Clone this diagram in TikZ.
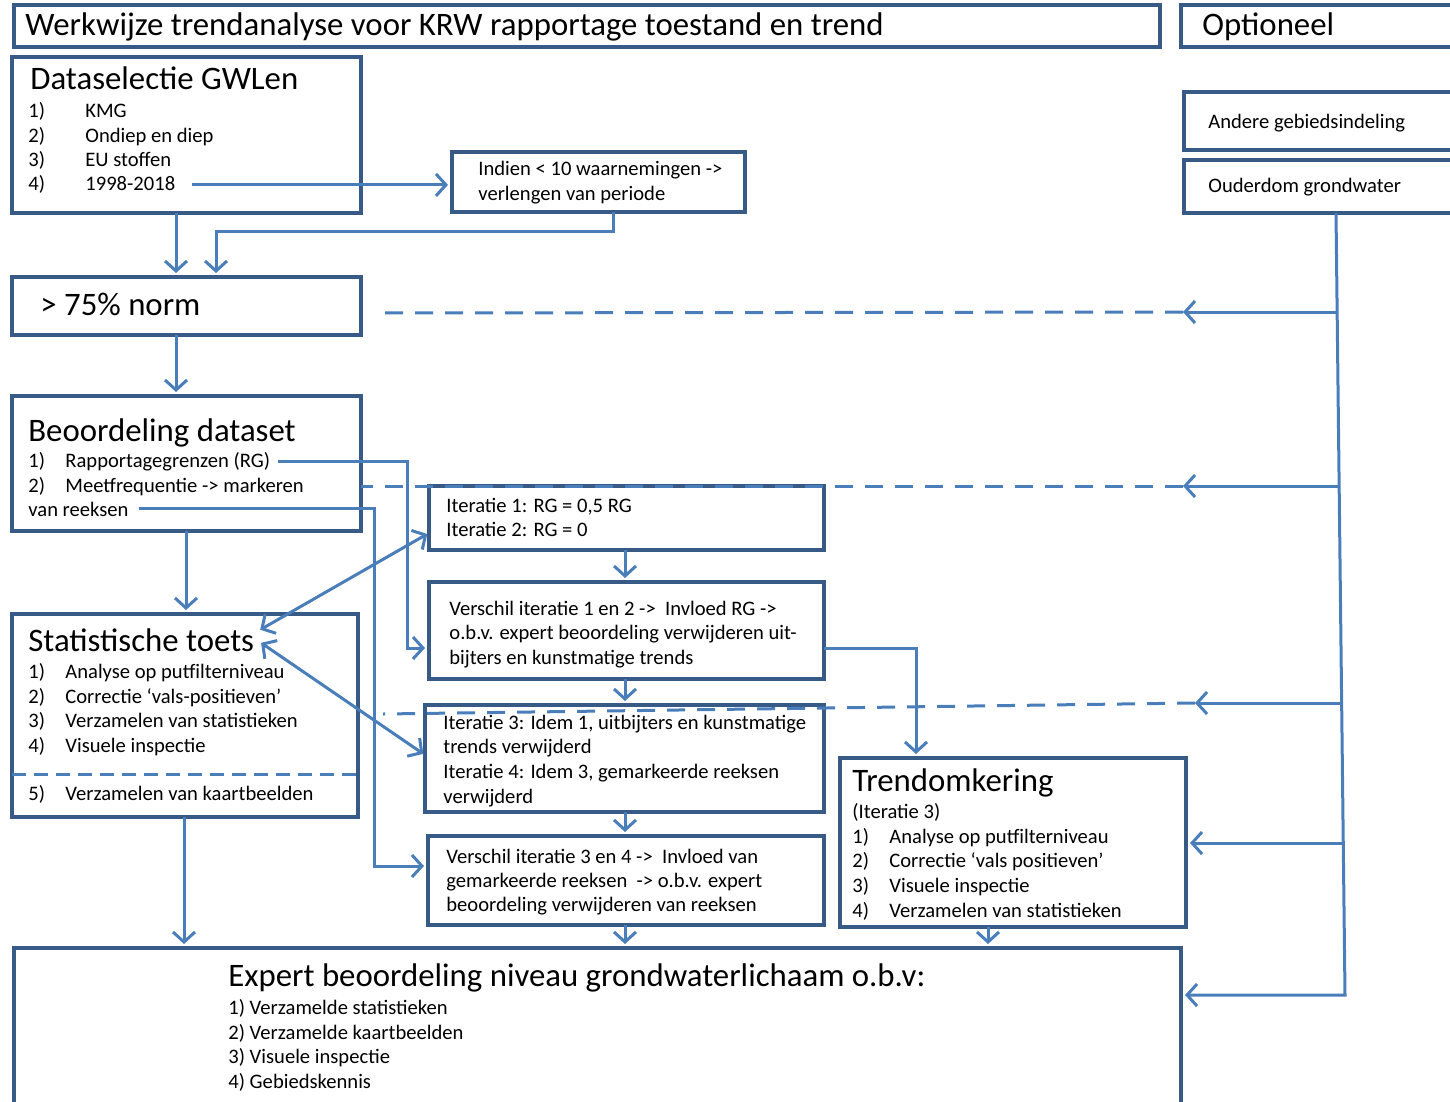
\documentclass[tikz,border=0pt]{standalone}
\usepackage{fontspec}
\setmainfont{Carlito}
\usetikzlibrary{arrows.meta,calc}
\definecolor{boxc}{HTML}{375A87}
\definecolor{arrc}{HTML}{4A7EBB}
\newcommand\mybox[5]{\node[box, minimum width={(#4-#2)*0.5pt}, minimum height={(#5-#3)*0.5pt}] (#1) at ({(#2+#4)/2},{(#3+#5)/2}) {};}
\newcommand\nr[1]{\makebox[18.5pt][l]{#1}}
\begin{document}
\begin{tikzpicture}[x=0.5pt,y=-0.5pt,
  box/.style={draw=boxc, line width=1.7pt, inner sep=0pt, outer sep=0pt},
  con/.style={draw=arrc, line width=1.5pt},
  tip/.tip={Straight Barb[length=5pt,width=11pt]},
  arr/.style={con, -tip, shorten >=2pt},
  darr/.style={con, tip-tip, shorten >=1pt, shorten <=1pt},
  dsh/.style={con, dash pattern=on 9pt off 6pt},
  big/.style={anchor=base west, inner sep=0pt, font=\fontsize{16.4}{19}\selectfont},
  sm/.style={anchor=base west, inner sep=0pt, font=\fontsize{10.3}{12}\selectfont},
]
\useasboundingbox (0,0) rectangle (1450,1102);

% boxes
\mybox{title}{14}{5}{1160}{47}
\mybox{opt}{1181}{5}{1470}{47}
\mybox{data}{12}{57}{361}{213}
\mybox{indien}{452}{152}{745}{212}
\mybox{norm}{12}{277}{361}{335}
\mybox{andere}{1184}{92}{1470}{150}
\mybox{ouder}{1184}{160}{1470}{213}
\mybox{beoord}{12}{396}{361}{531}
\mybox{it12}{429}{486}{824}{550}
\mybox{vers12}{429}{582}{824}{679}
\mybox{stat}{12}{614}{358}{817}
\mybox{it34}{425}{705}{824}{812}
\mybox{trend}{840}{758}{1186}{927}
\mybox{vers34}{428}{836}{824}{925}
\mybox{expert}{14}{948}{1181}{1120}

% texts
\node[big] (ttl) at (25,36) {Werkwijze trendanalyse voor KRW rapportage toestand en trend};
\node[big] (optt) at (1202,36) {Optioneel};
\node[big] (dh) at (30,90) {Dataselectie GWLen};
\node[sm] (d1t) at (28,118) {\makebox[28.5pt][l]{1)}KMG};
\node[sm] (d2t) at (28,142) {\makebox[28.5pt][l]{2)}Ondiep en diep};
\node[sm] (d3t) at (28,166) {\makebox[28.5pt][l]{3)}EU stoffen};
\node[sm] (d4t) at (28,191) {\makebox[28.5pt][l]{4)}1998-2018};
\node[sm] (i1t) at (478,176) {Indien < 10 waarnemingen ->};
\node[sm] (i2t) at (478,200) {verlengen van periode};
\node[big] (nt) at (40,315) {> 75\% norm};
\node[sm] (at) at (1208,128) {Andere gebiedsindeling};
\node[sm] (ot) at (1208,192) {Ouderdom grondwater};
\node[big] (bh) at (28,441) {Beoordeling dataset};
\node[sm] (b1t) at (28,467) {\nr{1)}Rapportagegrenzen (RG)};
\node[sm] (b2t) at (28,492) {\nr{2)}Meetfrequentie -> markeren};
\node[sm] (b3t) at (28,516) {van reeksen};
\node[sm] (r1t) at (446,512) {Iteratie 1: RG = 0,5 RG};
\node[sm] (r2t) at (446,536) {Iteratie 2: RG = 0};
\node[sm] (v1t) at (449,615) {Verschil iteratie 1 en 2 ->\ \ Invloed RG ->};
\node[sm] (v2t) at (449,639) {o.b.v. expert beoordeling verwijderen uit-};
\node[sm] (v3t) at (449,664) {bijters en kunstmatige trends};
\node[big] (sh) at (28,651) {Statistische toets};
\node[sm] (s1t) at (28,678) {\nr{1)}Analyse op putfilterniveau};
\node[sm] (s2t) at (28,703) {\nr{2)}Correctie ‘vals-positieven’};
\node[sm] (s3t) at (28,727) {\nr{3)}Verzamelen van statistieken};
\node[sm] (s4t) at (28,752) {\nr{4)}Visuele inspectie};
\node[sm] (s5t) at (28,800) {\nr{5)}Verzamelen van kaartbeelden};
\node[sm] (q1t) at (443,729) {Iteratie 3: Idem 1, uitbijters en kunstmatige};
\node[sm] (q2t) at (443,753) {trends verwijderd};
\node[sm] (q3t) at (443,778) {Iteratie 4: Idem 3, gemarkeerde reeksen};
\node[sm] (q4t) at (443,803) {verwijderd};
\node[big] (th) at (852,791) {Trendomkering};
\node[sm] (t0t) at (852,818) {(Iteratie 3)};
\node[sm] (t1t) at (852,843) {\nr{1)}Analyse op putfilterniveau};
\node[sm] (t2t) at (852,867) {\nr{2)}Correctie ‘vals positieven’};
\node[sm] (t3t) at (852,892) {\nr{3)}Visuele inspectie};
\node[sm] (t4t) at (852,917) {\nr{4)}Verzamelen van statistieken};
\node[sm] (w1t) at (446,863) {Verschil iteratie 3 en 4 ->\ \ Invloed van};
\node[sm] (w2t) at (446,887) {gemarkeerde reeksen\ \ -> o.b.v. expert};
\node[sm] (w3t) at (446,911) {beoordeling verwijderen van reeksen};
\node[big] (eh) at (228,986) {Expert beoordeling niveau grondwaterlichaam o.b.v:};
\node[sm] (e1t) at (228,1014) {1) Verzamelde statistieken};
\node[sm] (e2t) at (228,1039) {2) Verzamelde kaartbeelden};
\node[sm] (e3t) at (228,1063) {3) Visuele inspectie};
\node[sm] (e4t) at (228,1088) {4) Gebiedskennis};

% divider in stat box
\draw[con, dash pattern=on 7pt off 4pt] (stat.west |- 0,774) -- (stat.east |- 0,774);

% coordinates on the optional vertical line
\coordinate (vt) at (1336,213);
\coordinate (v1) at (1337,312);
\coordinate (v2) at (1339,486);
\coordinate (v3) at (1341,703);
\coordinate (v4) at (1343,843);
\coordinate (vb) at (1345,995);
\coordinate (h1) at (1183,312);
\coordinate (h2) at (1183,486);
\coordinate (h3) at (1195,703);
\coordinate (d1) at (383,313);
\coordinate (d3) at (383,714);

% connectors
\draw[arr] ($(d4t.east)+(16,0)$) -- (indien.west |- d4t.east);
\draw[arr] (data.south -| 176,0) -- (norm.north -| 176,0);
\draw[arr] (indien.south -| 613,0) |- (216,231) -- (norm.north -| 216,0);
\draw[arr] (norm.south -| 176,0) -- (beoord.north -| 176,0);
\draw[arr] (ouder.south -| vt) -- (vb) -- (expert.east |- vb);
\draw[con, -tip] (v1) -- (h1);
\draw[dsh] (h1) -- (d1);
\draw[con, -tip] (v2) -- (h2);
\draw[dsh] (h2) -- (beoord.east |- h2);
\draw[con, -tip] (v3) -- (h3);
\draw[dsh] (h3) -- (d3);
\draw[arr] (v4) -- (trend.east |- v4);
\draw[arr] ($(b1t.east)+(8,0)$) -| (407,648) -- (vers12.west |- 0,648);
\draw[arr] ($(b3t.east)+(10,0)$) -| (374,866) -- (vers34.west |- 0,866);
\draw[arr] (beoord.south -| 186,0) -- (stat.north -| 186,0);
\draw[darr] ($(sh.east)+(4,-9)$) -- (it12.west |- 0,533);
\draw[darr] ($(sh.east)+(5,2)$) -- (it34.west |- 0,755);
\draw[arr] (it12.south -| 625,0) -- (vers12.north -| 625,0);
\draw[arr] (vers12.south -| 625,0) -- (it34.north -| 625,0);
\draw[arr] (it34.south -| 625,0) -- (vers34.north -| 625,0);
\draw[arr] (vers34.south -| 625,0) -- (expert.north -| 625,0);
\draw[arr] (vers12.east |- 0,648) -| (trend.north -| 916,0);
\draw[arr] (trend.south -| 988,0) -- (expert.north -| 988,0);
\draw[arr] (stat.south -| 184,0) -- (expert.north -| 184,0);
\end{tikzpicture}
\end{document}
